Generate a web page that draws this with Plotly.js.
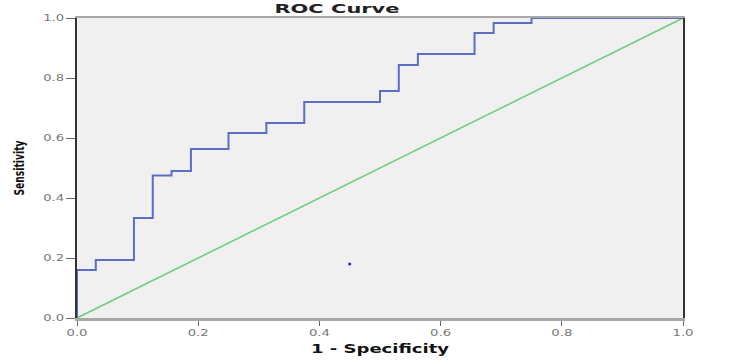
<!DOCTYPE html>
<html>
<head>
<meta charset="utf-8">
<script src="https://cdn.plot.ly/plotly-3.0.1.min.js"></script>
<style>html,body{margin:0;padding:0;background:#fff;}#chart{width:742px;height:360px;}</style>
</head>
<body>
<div id="chart"></div>
<script>
// ROC step curve (1 - Specificity vs Sensitivity)
const fpr = [0, 0, 0.031, 0.094, 0.125, 0.156, 0.188, 0.25, 0.3125, 0.375, 0.5, 0.531, 0.5625, 0.656, 0.6875, 0.75, 1.0];
const tpr = [0, 0.16, 0.193, 0.333, 0.475, 0.49, 0.563, 0.617, 0.65, 0.72, 0.757, 0.843, 0.88, 0.95, 0.983, 1.0, 1.0];
// Reference (chance) line
const refX = [0, 1];
const refY = [0, 1];
// Stray point
const ptX = [0.45];
const ptY = [0.18];
const tickVals = [0, 0.2, 0.4, 0.6, 0.8, 1.0];
const tickText = ["0.0", "0.2", "0.4", "0.6", "0.8", "1.0"];

const traces = [
  {x: refX, y: refY, mode: 'lines', line: {color: '#6fcf7f', width: 1.6}, hoverinfo: 'skip'},
  {x: fpr, y: tpr, mode: 'lines', line: {color: '#5a6ec2', width: 2, shape: 'hv'}},
  {x: ptX, y: ptY, mode: 'markers', marker: {color: '#1a1aff', size: 3}}
];

const fam = 'DejaVu Sans, Arial, sans-serif';
const tickFont = {family: fam, size: 9, color: '#777'};
const layout = {
  width: 742, height: 360,
  margin: {l: 77, r: 59, t: 18, b: 42, pad: 0},
  paper_bgcolor: '#ffffff',
  plot_bgcolor: '#f0f0f0',
  showlegend: false,
  title: {text: 'ROC Curve', font: {family: fam, size: 13, color: '#222', weight: 'bold'},
          x: 0.429, xref: 'paper', xanchor: 'center', y: 0.976, yref: 'container', yanchor: 'middle'},
  xaxis: {
    range: [0, 1], tickvals: tickVals, ticktext: tickText, tickfont: tickFont,
    ticks: 'outside', ticklen: 5, tickcolor: '#666', tickwidth: 1,
    showgrid: false, zeroline: false, showline: true, linecolor: '#a8a8a8', linewidth: 2.5, mirror: true,
    fixedrange: true,
    title: {text: '1 - Specificity', font: {family: fam, size: 12, color: '#111', weight: 'bold'}, standoff: 8}
  },
  yaxis: {
    range: [0, 1], tickvals: tickVals, ticktext: tickText, tickfont: tickFont,
    ticks: 'outside', ticklen: 9, tickcolor: '#666', tickwidth: 1,
    showgrid: false, zeroline: false, showline: true, linecolor: '#333', linewidth: 2, mirror: true,
    fixedrange: true,
    title: {text: 'Sensitivity', font: {family: fam, size: 14, color: '#111', weight: 'bold'}, standoff: 22}
  }
};

function stretch(sel, len) {
  document.querySelectorAll(sel).forEach(function (t) {
    t.setAttribute('textLength', len);
    t.setAttribute('lengthAdjust', 'spacingAndGlyphs');
  });
}

Plotly.newPlot('chart', traces, layout, {displayModeBar: false, staticPlot: true}).then(function () {
  stretch('.gtitle', 125);
  stretch('.xtitle', 138);
  stretch('.ytitle', 55);
  stretch('.xtick text', 21);
  stretch('.ytick text', 21);
});
</script>
</body>
</html>
